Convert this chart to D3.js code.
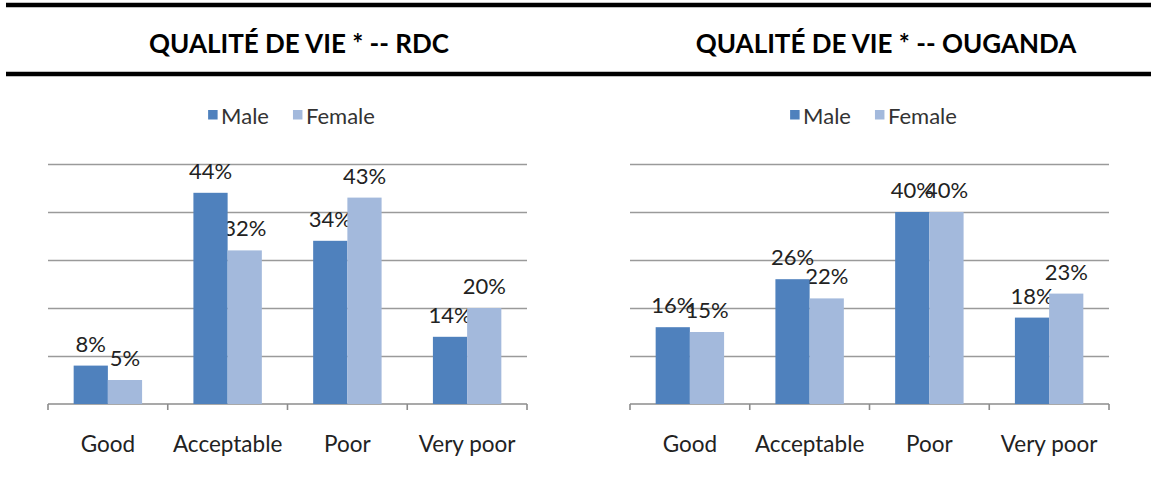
<!DOCTYPE html>
<html>
<head>
<meta charset="utf-8">
<script src="https://cdn.jsdelivr.net/npm/d3@7"></script>
<style>
  html, body { margin: 0; padding: 0; background: #ffffff; }
  svg { display: block; }
  text { font-family: Lato, "Open Sans", sans-serif; }
</style>
</head>
<body>
<svg id="chart" width="1151" height="477"></svg>
<script>
// Quality-of-life ratings by sex, two countries
const categories = ["Good", "Acceptable", "Poor", "Very poor"];
const seriesNames = ["Male", "Female"];
const rdcMale = [8, 44, 34, 14];
const rdcFemale = [5, 32, 43, 20];
const ugandaMale = [16, 26, 40, 18];
const ugandaFemale = [15, 22, 40, 23];
const gridTicks = [10, 20, 30, 40, 50];
const titles = ["QUALITÉ DE VIE * -- RDC", "QUALITÉ DE VIE * -- OUGANDA"];

const colors = { Male: "#4f81bd", Female: "#a3b9dc" };
const svg = d3.select("#chart");

// heavy header rules
[5, 74].forEach(y => {
  svg.append("line")
    .attr("x1", 6).attr("x2", 1151)
    .attr("y1", y).attr("y2", y)
    .attr("stroke", "#000").attr("stroke-width", 4.5);
});

const y = d3.scaleLinear().domain([0, 50]).range([404, 164]);

function panel(title, titleCenter, x0, x1, male, female) {
  const g = svg.append("g");

  g.append("text")
    .attr("x", titleCenter).attr("y", 53)
    .attr("text-anchor", "middle")
    .attr("font-weight", 700)
    .attr("font-size", 26)
    .attr("fill", "#000")
    .text(title);

  const x = d3.scaleBand().domain(categories).range([x0, x1])
    .paddingInner(0).paddingOuter(0);
  const xs = d3.scaleBand().domain(seriesNames).range([0, x.bandwidth()])
    .paddingInner(0).paddingOuter(0.75);

  // horizontal gridlines
  g.append("g")
    .attr("transform", `translate(${x0},0)`)
    .call(d3.axisLeft(y).tickValues(gridTicks).tickSize(-(x1 - x0)).tickFormat(""))
    .call(a => a.select(".domain").remove())
    .call(a => a.selectAll(".tick line").attr("stroke", "#9a9a9a").attr("stroke-width", 1.6));

  // category axis: baseline with ticks at band edges
  const edges = categories.map(c => x(c)).concat([x1]);
  g.append("line")
    .attr("x1", x0).attr("x2", x1).attr("y1", y(0)).attr("y2", y(0))
    .attr("stroke", "#8c8c8c").attr("stroke-width", 1.6);
  g.selectAll(".edge").data(edges).join("line")
    .attr("x1", d => d).attr("x2", d => d)
    .attr("y1", y(0)).attr("y2", y(0) + 6)
    .attr("stroke", "#8c8c8c").attr("stroke-width", 1.6);

  g.selectAll(".cat").data(categories).join("text")
    .attr("x", d => x(d) + x.bandwidth() / 2)
    .attr("y", 452)
    .attr("text-anchor", "middle")
    .attr("font-size", 22.5)
    .attr("fill", "#222")
    .text(d => d);

  const rows = [];
  categories.forEach((c, i) => {
    rows.push({ cat: c, s: "Male", v: male[i] });
    rows.push({ cat: c, s: "Female", v: female[i] });
  });

  // value labels sit beneath the bars in paint order
  g.selectAll(".val").data(rows).join("text")
    .attr("x", d => x(d.cat) + xs(d.s) + xs.bandwidth() / 2)
    .attr("y", d => y(d.v) - 14)
    .attr("text-anchor", "middle")
    .attr("font-size", 22)
    .attr("fill", "#222")
    .text(d => d.v + "%");

  g.selectAll(".bar").data(rows).join("rect")
    .attr("x", d => x(d.cat) + xs(d.s))
    .attr("y", d => y(d.v))
    .attr("width", xs.bandwidth())
    .attr("height", d => y(0) - y(d.v))
    .attr("fill", d => colors[d.s]);

  // legend centred above the plot
  const lg = g.append("g");
  let cx = 0;
  seriesNames.forEach((s, i) => {
    const item = lg.append("g").attr("transform", `translate(${cx},0)`);
    item.append("rect").attr("x", 0).attr("y", 110).attr("width", 9.5).attr("height", 9.5)
      .attr("fill", colors[s]);
    const t = item.append("text").attr("x", 13).attr("y", 124)
      .attr("font-size", 22).attr("fill", "#333").text(s);
    cx += 13 + t.node().getComputedTextLength() + 24;
  });
  const lw = cx - 24;
  lg.attr("transform", `translate(${(x0 + x1) / 2 + 4 - lw / 2},0)`);
}

panel(titles[0], 299, 48, 527, rdcMale, rdcFemale);
panel(titles[1], 886, 630, 1109, ugandaMale, ugandaFemale);
</script>
</body>
</html>
